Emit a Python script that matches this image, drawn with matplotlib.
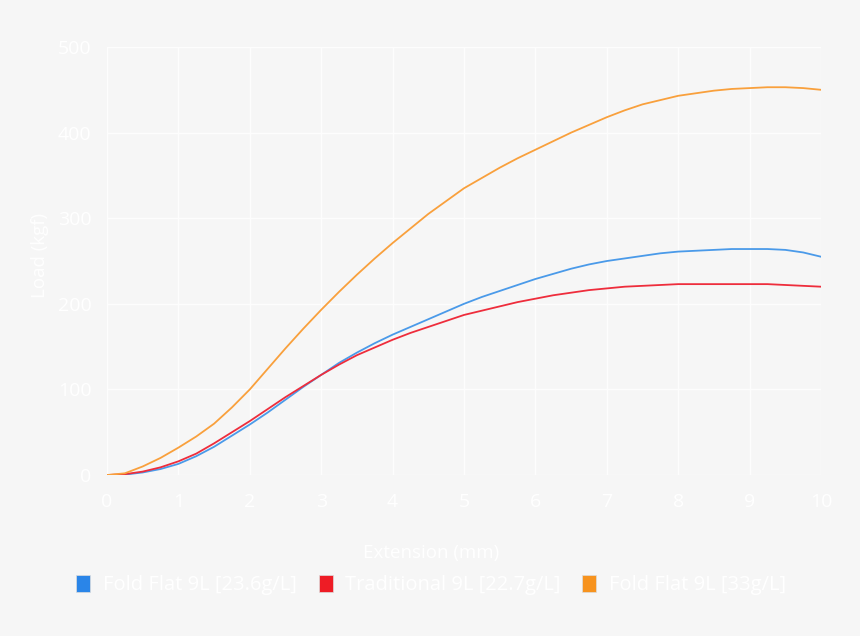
import matplotlib
matplotlib.use("Agg")
import matplotlib.pyplot as plt
from matplotlib.patches import Patch

# extension (mm), quarter steps
extension = [0, 0.25, 0.5, 0.75, 1, 1.25, 1.5, 1.75, 2, 2.25, 2.5, 2.75,
             3, 3.25, 3.5, 3.75, 4, 4.25, 4.5, 4.75, 5, 5.25, 5.5, 5.75,
             6, 6.25, 6.5, 6.75, 7, 7.25, 7.5, 7.75, 8, 8.25, 8.5, 8.75,
             9, 9.25, 9.5, 9.75, 10]

# load (kgf)
fold_flat_236 = [0, 0.5, 3, 7, 13, 22, 33, 46, 59, 73, 88, 103,
                 117, 131, 143, 154, 164, 173, 182, 191, 200, 208, 215, 222,
                 229, 235, 241, 246, 250, 253, 256, 259, 261, 262, 263, 264,
                 264, 264, 263, 260, 255]
traditional_227 = [0, 1, 4, 9, 16, 25, 37, 50, 63, 77, 91, 104,
                   117, 129, 140, 149, 158, 166, 173, 180, 187, 192, 197, 202,
                   206, 210, 213, 216, 218, 220, 221, 222, 223, 223, 223, 223,
                   223, 223, 222, 221, 220]
fold_flat_33 = [0, 2, 10, 20, 32, 45, 60, 79, 100, 124, 148, 171,
                193, 214, 234, 253, 271, 288, 305, 320, 335, 347, 359, 370,
                380, 390, 400, 409, 418, 426, 433, 438, 443, 446, 449, 451,
                452, 453, 453, 452, 450]

labels = ["Fold Flat 9L [23.6g/L]", "Traditional 9L [22.7g/L]", "Fold Flat 9L [33g/L]"]
line_colors = ["#4a9ae9", "#ee2d3c", "#f9a03c"]
legend_colors = ["#2a85e8", "#ee1c25", "#f7931e"]

x_ticks = list(range(0, 11))
y_ticks = [0, 100, 200, 300, 400, 500]

bg = "#f6f6f6"
text_color = "#ffffff"
plt.rcParams["font.family"] = ["Open Sans", "DejaVu Sans"]

fig = plt.figure(figsize=(8.6, 6.36), dpi=100, facecolor=bg)
ax = fig.add_axes([0.1244, 0.2531, 0.8303, 0.6730])
ax.set_facecolor(bg)

for ys, c in zip([fold_flat_236, traditional_227, fold_flat_33], line_colors):
    ax.plot(extension, ys, color=c, linewidth=1.3, zorder=3)

ax.set_xlim(0, 10)
ax.set_ylim(0, 500)
ax.set_xticks(x_ticks)
ax.set_yticks(y_ticks)
ax.grid(True, color="#fdfdfd", linewidth=1.0, zorder=0)
for s in ax.spines.values():
    s.set_visible(False)
ax.tick_params(length=0, colors=text_color, labelsize=14)
ax.tick_params(axis="y", pad=11)
ax.tick_params(axis="x", pad=13)

fig.text(40 / 860, 1 - 255 / 636, "Load (kgf)", color=text_color, rotation=90,
         fontsize=13.5, ha="center", va="center")
fig.text(431 / 860, 1 - 553 / 636, "Extension (mm)", color=text_color,
         fontsize=13.5, ha="center", va="center")

handles = [Patch(facecolor=c, edgecolor="#dddddd", linewidth=0.5) for c in legend_colors]
leg = fig.legend(handles, labels, loc="center", bbox_to_anchor=(431 / 860, 1 - 585 / 636),
                 ncol=3, frameon=False, fontsize=14.5, handlelength=0.7, handleheight=0.95,
                 handletextpad=0.6, columnspacing=1.1)
for t in leg.get_texts():
    t.set_color(text_color)

fig.savefig("out.png", dpi=100, facecolor=bg)
